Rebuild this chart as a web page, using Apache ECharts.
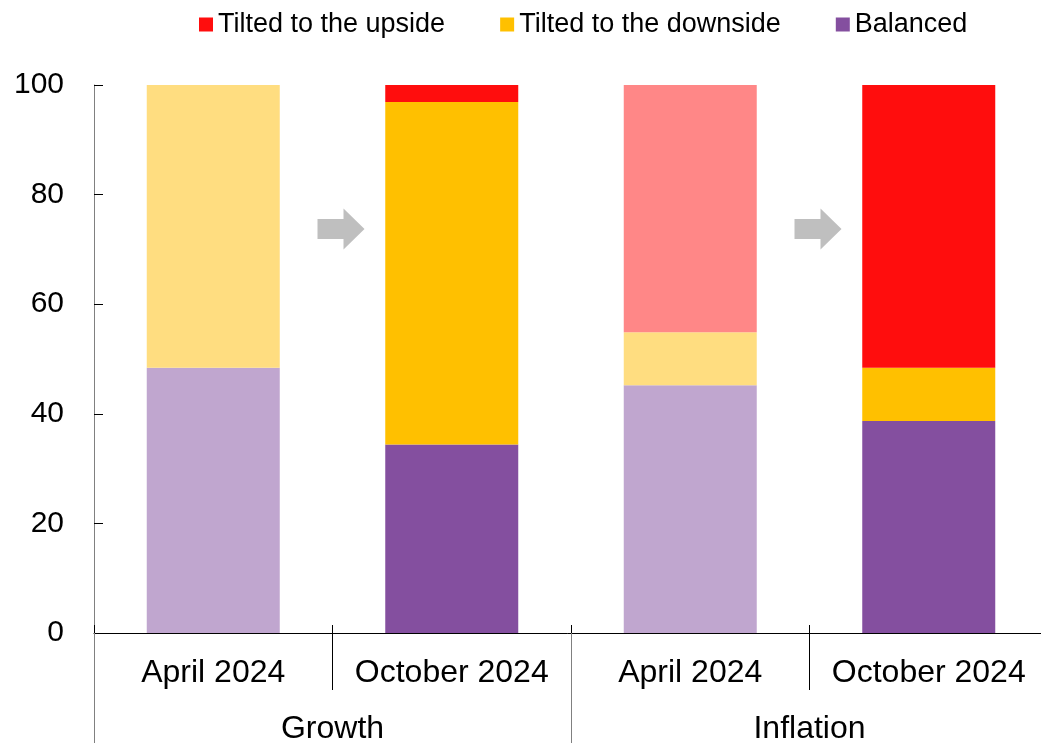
<!DOCTYPE html>
<html>
<head>
<meta charset="utf-8">
<script src="https://cdn.jsdelivr.net/npm/echarts@6/dist/echarts.min.js"></script>
<style>
  html, body { margin: 0; padding: 0; background: #fff; }
  #chart { width: 1041px; height: 743px; }
</style>
</head>
<body>
<div id="chart"></div>
<script>
// Survey shares (%) of respondents by risk assessment
const periods = ['April 2024', 'October 2024', 'April 2024', 'October 2024'];
const groups = ['Growth', 'Inflation'];
const balanced = [48.4, 34.4, 45.2, 38.7];
const downside = [51.6, 62.5, 9.7, 9.7];
const upside = [0, 3.1, 45.1, 51.6];
const yTicks = [0, 20, 40, 60, 80, 100];

// Earlier survey shown in pale shades, latest survey in full colour
const isLatest = [false, true, false, true];
const palette = {
  balanced: { dark: '#844F9F', light: '#C0A6CF' },
  downside: { dark: '#FFC000', light: '#FFDD80' },
  upside: { dark: '#FF0D0D', light: '#FF8787' }
};

const FONT = "'Liberation Sans', Arial, sans-serif";

function makeSeries(name, values, key) {
  return {
    name: name,
    type: 'bar',
    stack: 'share',
    barWidth: 133,
    xAxisIndex: 0,
    itemStyle: { color: palette[key].dark },
    emphasis: { disabled: true },
    data: values.map((v, i) => ({
      value: v,
      itemStyle: { color: isLatest[i] ? palette[key].dark : palette[key].light }
    }))
  };
}

const chart = echarts.init(document.getElementById('chart'), null, { renderer: 'canvas' });

const option = {
  animation: false,
  backgroundColor: '#ffffff',
  textStyle: { fontFamily: FONT },
  legend: {
    top: 11,
    left: 199,
    padding: 0,
    itemWidth: 14,
    itemHeight: 14,
    itemGap: 55,
    icon: 'rect',
    selectedMode: false,
    textStyle: { fontFamily: FONT, fontSize: 27, color: '#000' },
    data: ['Tilted to the upside', 'Tilted to the downside', 'Balanced']
  },
  // plot runs a few pixels past the right edge of the canvas
  grid: { left: 94, width: 954, top: 85, bottom: 110, containLabel: false, outerBoundsMode: 'none' },
  xAxis: [
    {
      type: 'category',
      data: periods,
      position: 'bottom',
      axisLine: { show: true, lineStyle: { color: '#000', width: 1 } },
      axisTick: { show: true, inside: false, length: 57, lineStyle: { color: '#000', width: 1 } },
      axisLabel: { interval: 0, fontFamily: FONT, fontSize: 32, color: '#000', margin: 24 }
    },
    {
      type: 'category',
      data: groups,
      position: 'bottom',
      axisLine: { show: false },
      axisTick: { show: true, inside: false, length: 110, lineStyle: { color: '#808080', width: 1 } },
      axisLabel: { interval: 0, fontFamily: FONT, fontSize: 32, color: '#000', margin: 80 }
    },
    {
      // short divider stubs poking above the baseline
      type: 'category',
      data: periods,
      position: 'bottom',
      axisLine: { show: false },
      axisTick: { show: true, inside: true, length: 8, lineStyle: { color: '#000', width: 1 } },
      axisLabel: { show: false }
    }
  ],
  yAxis: {
    type: 'value',
    min: yTicks[0],
    max: yTicks[yTicks.length - 1],
    interval: 20,
    axisLine: { show: true, lineStyle: { color: '#808080', width: 1 } },
    axisTick: { show: true, inside: true, length: 9, lineStyle: { color: '#000', width: 1 } },
    axisLabel: { fontFamily: FONT, fontSize: 30, color: '#000', margin: 30 },
    splitLine: { show: false }
  },
  series: [
    makeSeries('Balanced', balanced, 'balanced'),
    makeSeries('Tilted to the downside', downside, 'downside'),
    makeSeries('Tilted to the upside', upside, 'upside')
  ]
};

chart.setOption(option);

// Grey arrows between the two surveys of each group, at the 73.7 level
const arrowLevel = 73.7;
const arrowPairs = [[0, 1], [2, 3]];
const arrowShape = [[-23, -10], [3, -10], [3, -20.5], [24, 0], [3, 20.5], [3, 10], [-23, 10]];
const arrows = arrowPairs.map(([a, b]) => {
  const pa = chart.convertToPixel({ xAxisIndex: 0, yAxisIndex: 0 }, [a, arrowLevel]);
  const pb = chart.convertToPixel({ xAxisIndex: 0, yAxisIndex: 0 }, [b, arrowLevel]);
  const cx = (pa[0] + pb[0]) / 2 + 8;
  const cy = pa[1];
  return {
    type: 'polygon',
    shape: { points: arrowShape.map(([dx, dy]) => [cx + dx, cy + dy]) },
    style: { fill: '#BFBFBF' },
    silent: true,
    z: 10
  };
});
chart.setOption({ graphic: arrows });
</script>
</body>
</html>
